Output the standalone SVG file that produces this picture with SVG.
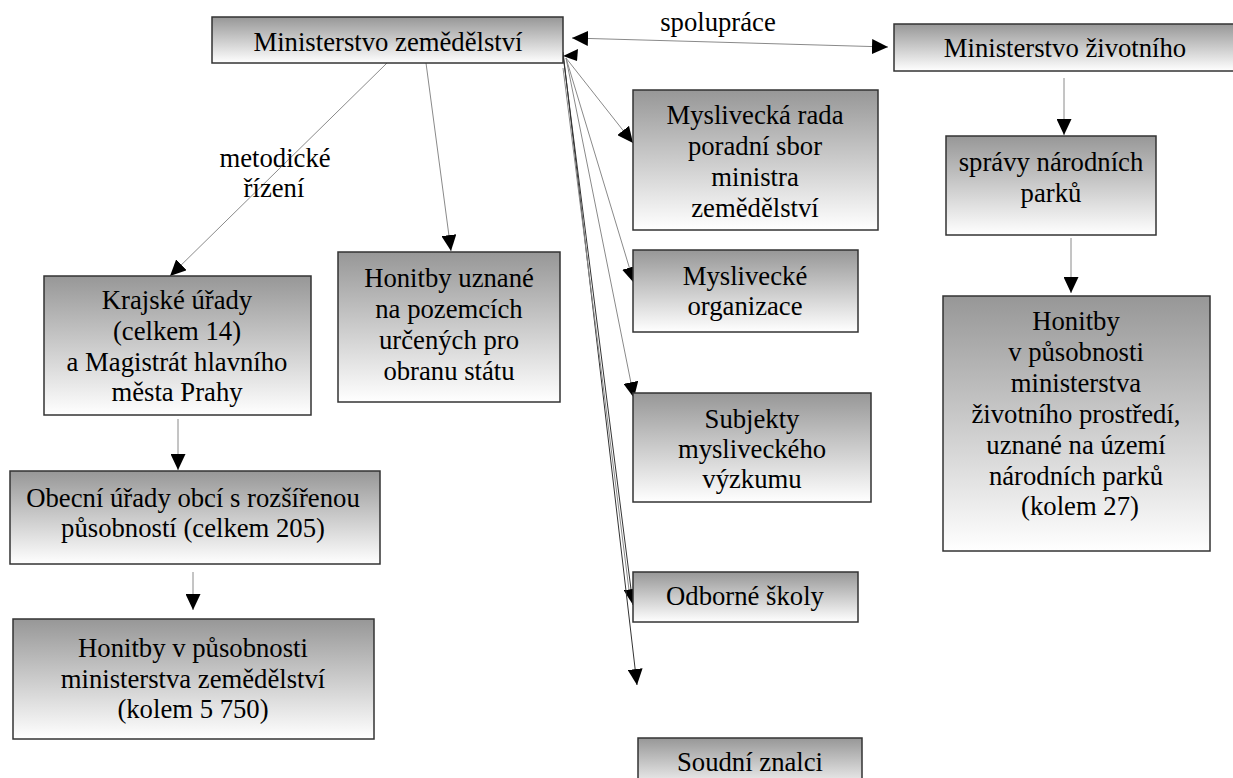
<svg xmlns="http://www.w3.org/2000/svg" width="1233" height="778" viewBox="0 0 1233 778">
<style>
.box{fill:url(#g);stroke:#333;stroke-width:1.5}
.t{font-family:"Liberation Serif","DejaVu Serif",serif;font-size:26.7px;text-anchor:middle;fill:#000}
.c{fill:none;stroke:#8a8a8a;stroke-width:1}
.cd{fill:none;stroke:#333;stroke-width:1}
</style>
<defs>
<linearGradient id="g" x1="0" y1="0" x2="0" y2="1">
<stop offset="0" stop-color="#979797"/>
<stop offset="1" stop-color="#ffffff"/>
</linearGradient>
<marker id="ah" viewBox="0 0 16 15" refX="16" refY="7.5" markerWidth="16" markerHeight="15" markerUnits="userSpaceOnUse" orient="auto-start-reverse">
<path d="M0,0 L16,7.5 L0,15 z" fill="#000"/>
</marker>
</defs>
<rect width="1233" height="778" fill="#fff"/>

<g id="connectors">
<line class="c" x1="387" y1="63" x2="170" y2="276" marker-end="url(#ah)"/>
<line class="c" x1="426" y1="63" x2="451" y2="251" marker-end="url(#ah)"/>
<line class="c" x1="572" y1="38" x2="888" y2="47" marker-start="url(#ah)" marker-end="url(#ah)"/>
<line class="c" x1="566" y1="58" x2="633" y2="143" marker-end="url(#ah)"/>
<line class="c" x1="566" y1="58" x2="634" y2="283" marker-end="url(#ah)"/>
<line class="c" x1="566" y1="58" x2="634" y2="398" marker-end="url(#ah)"/>
<line class="cd" x1="563" y1="55" x2="633" y2="605" marker-end="url(#ah)"/>
<line class="cd" x1="563" y1="52" x2="637" y2="685" marker-end="url(#ah)"/>
<line class="c" x1="563" y1="68" x2="629" y2="590"/>
<path d="M563,56 L578,49 L577,61 z" fill="#000"/>
<line class="c" x1="1064" y1="78" x2="1064" y2="135" marker-end="url(#ah)"/>
<line class="c" x1="1071" y1="238" x2="1071" y2="293" marker-end="url(#ah)"/>
<line class="c" x1="178" y1="419" x2="178" y2="470" marker-end="url(#ah)"/>
<line class="c" x1="193" y1="572" x2="193" y2="610" marker-end="url(#ah)"/>
<text class="t" x="718" y="31">spolupráce</text>
<text class="t" x="275" y="167">metodické</text>
<text class="t" x="274" y="197">řízení</text>
</g>

<g id="mz">
<rect class="box" x="212" y="17" width="351" height="46"/>
<text class="t" x="388" y="51">Ministerstvo zemědělství</text>
</g>
<g id="mzp">
<rect class="box" x="894" y="24" width="345" height="47"/>
<text class="t" x="1065" y="57">Ministerstvo životního</text>
</g>
<g id="myslivecka-rada">
<rect class="box" x="633" y="90" width="245" height="140"/>
<text class="t" x="755" y="124">Myslivecká rada</text>
<text class="t" x="755" y="155">poradní sbor</text>
<text class="t" x="755" y="186">ministra</text>
<text class="t" x="755" y="217">zemědělství</text>
</g>
<g id="spravy">
<rect class="box" x="946" y="136" width="210" height="99"/>
<text class="t" x="1051" y="171">správy národních</text>
<text class="t" x="1051" y="202">parků</text>
</g>
<g id="krajske">
<rect class="box" x="44" y="276" width="267" height="139"/>
<text class="t" x="177" y="309">Krajské úřady</text>
<text class="t" x="177" y="340">(celkem 14)</text>
<text class="t" x="177" y="371">a Magistrát hlavního</text>
<text class="t" x="177" y="401">města Prahy</text>
</g>
<g id="honitby-obrana">
<rect class="box" x="338" y="252" width="222" height="150"/>
<text class="t" x="449" y="287">Honitby uznané</text>
<text class="t" x="449" y="318">na pozemcích</text>
<text class="t" x="449" y="349">určených pro</text>
<text class="t" x="449" y="380">obranu státu</text>
</g>
<g id="myslivecke-organizace">
<rect class="box" x="633" y="250" width="225" height="82"/>
<text class="t" x="745" y="285">Myslivecké</text>
<text class="t" x="745" y="315">organizace</text>
</g>
<g id="subjekty">
<rect class="box" x="633" y="393" width="238" height="109"/>
<text class="t" x="752" y="428">Subjekty</text>
<text class="t" x="752" y="458">mysliveckého</text>
<text class="t" x="752" y="488">výzkumu</text>
</g>
<g id="honitby-mzp">
<rect class="box" x="943" y="296" width="267" height="255"/>
<text class="t" x="1076" y="330">Honitby</text>
<text class="t" x="1076" y="361">v působnosti</text>
<text class="t" x="1076" y="392">ministerstva</text>
<text class="t" x="1076" y="423">životního prostředí,</text>
<text class="t" x="1076" y="454">uznané na území</text>
<text class="t" x="1076" y="485">národních parků</text>
<text class="t" x="1080" y="515">(kolem 27)</text>
</g>
<g id="obecni">
<rect class="box" x="10" y="471" width="370" height="93"/>
<text class="t" x="193" y="507">Obecní úřady obcí s rozšířenou</text>
<text class="t" x="193" y="537">působností (celkem 205)</text>
</g>
<g id="honitby-mz">
<rect class="box" x="13" y="619" width="361" height="120"/>
<text class="t" x="193" y="657">Honitby v působnosti</text>
<text class="t" x="193" y="688">ministerstva zemědělství</text>
<text class="t" x="193" y="718">(kolem 5 750)</text>
</g>
<g id="odborne-skoly">
<rect class="box" x="633" y="572" width="225" height="50"/>
<text class="t" x="745" y="605">Odborné školy</text>
</g>
<g id="soudni-znalci">
<rect class="box" x="638" y="738" width="224" height="55"/>
<text class="t" x="750" y="771">Soudní znalci</text>
</g>
</svg>
